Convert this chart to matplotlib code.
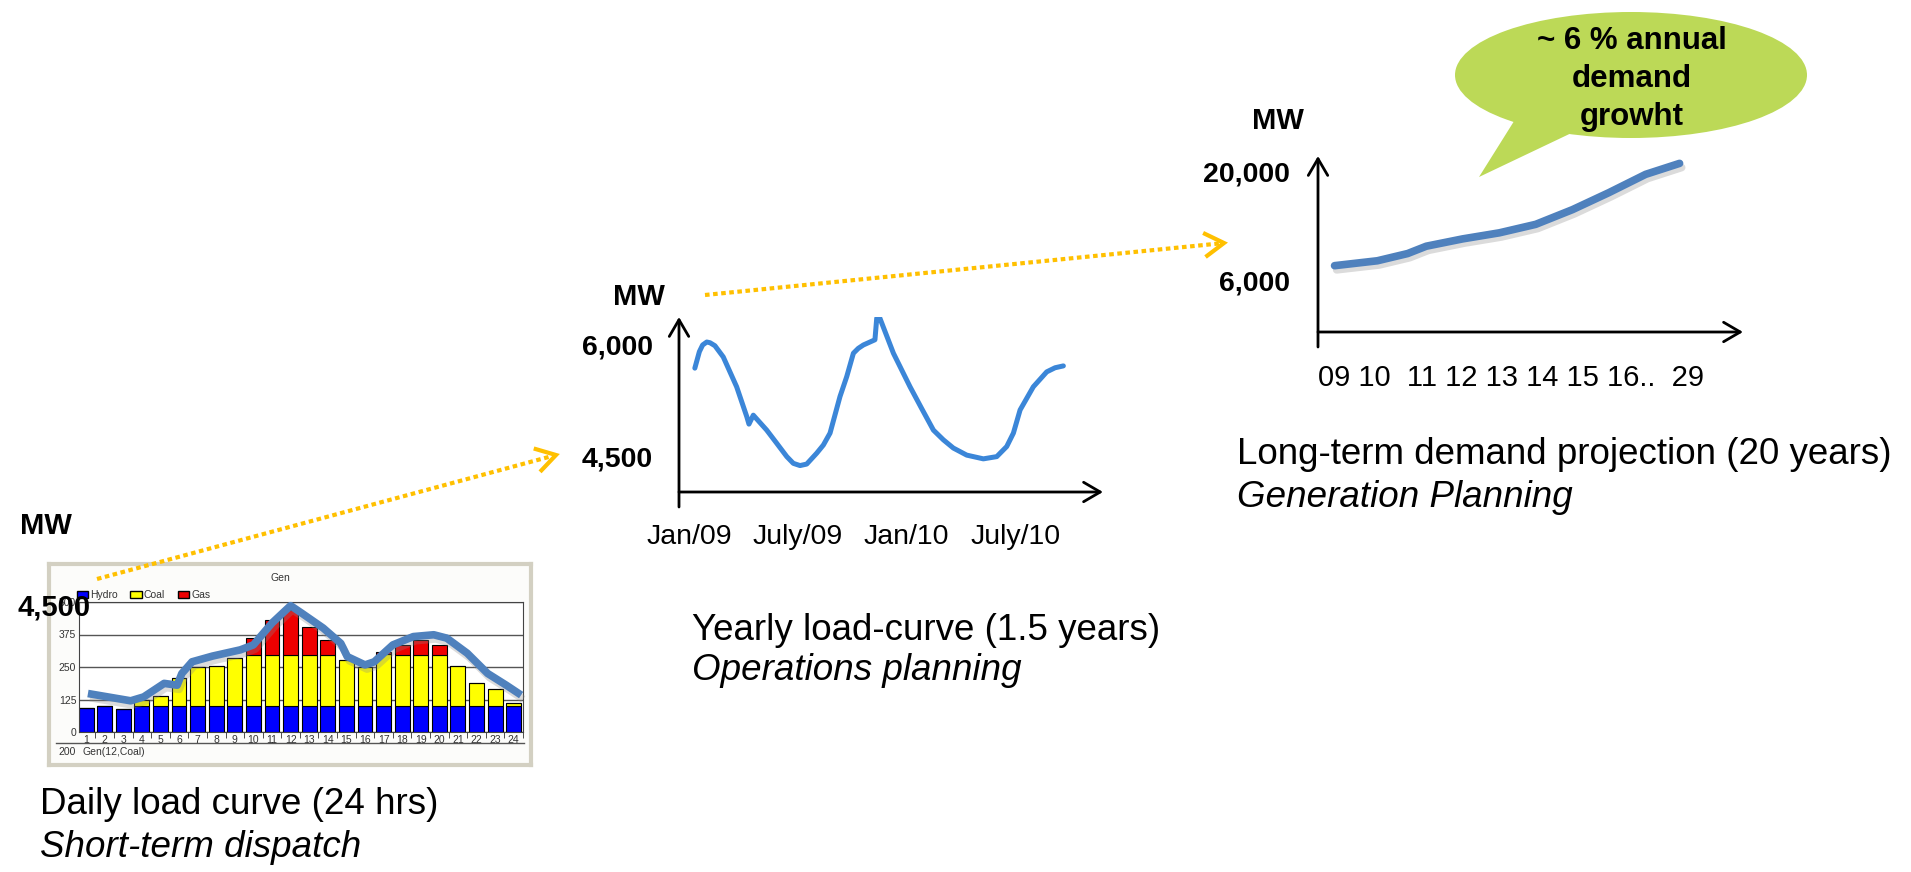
import numpy as np
import matplotlib
matplotlib.use('Agg')
import matplotlib.pyplot as plt
import matplotlib.patheffects as pe
from matplotlib.patches import Ellipse, Polygon, Patch

plt.rcParams['font.family'] = ['Liberation Sans', 'DejaVu Sans']

W, H = 1911, 872

# ---- daily dispatch (24 hrs), MW stacked by source
hours = np.arange(1, 25)
hydro = [94, 99, 88, 100, 100, 100, 100, 100, 100, 100, 100, 100,
         100, 100, 100, 100, 100, 100, 100, 100, 100, 100, 100, 100]
coal = [0, 0, 0, 22, 38, 106, 149, 154, 184, 197, 197, 197,
        197, 197, 177, 151, 200, 197, 197, 197, 154, 89, 64, 13]
gas = [0, 0, 0, 0, 0, 0, 0, 0, 0, 64, 135, 173,
       106, 55, 0, 0, 6, 36, 55, 36, 0, 0, 0, 0]
daily_ticks = [0, 125, 250, 375, 500]

# hand drawn load curve over the bars
load_hour = [1.1, 3.4, 4.1, 5.2, 5.9, 6.15, 6.7, 7.8, 9.3, 10.0, 11.0, 12.0, 12.6,
             13.75, 14.7, 15.05, 16.0, 16.5, 17.5, 18.6, 19.7, 20.4, 21.5, 22.6, 23.6, 24.4]
load_mw = [148, 120, 135, 187, 180, 225, 270, 292, 316, 335, 419, 486, 457,
           400, 341, 290, 258, 270, 335, 367, 374, 361, 303, 225, 180, 142]

# ---- yearly load curve (months from Jan/09)
month = [0.3, 0.55, 0.73, 0.96, 1.14, 1.41, 1.87, 2.61, 3.17, 3.29, 3.53, 4.27, 4.82,
         5.38, 5.74, 6.11, 6.48, 7.03, 7.4, 7.77, 8.32, 8.69, 9.06, 9.33, 9.61, 10.25,
         10.35, 10.49, 11.27, 11.73, 12.19, 12.83, 13.48, 14.03, 14.58, 15.32, 16.24,
         16.98, 17.53, 17.9, 18.27, 19.0, 19.74, 20.2, 20.66]
yearly_mw = [5690, 5910, 6000, 6040, 6030, 5990, 5840, 5440, 5040, 4940, 5060, 4860, 4685,
             4505, 4415, 4385, 4405, 4550, 4660, 4820, 5310, 5575, 5890, 5955, 6000, 6070,
             6360, 6380, 5890, 5665, 5440, 5150, 4860, 4730, 4620, 4525, 4475,
             4505, 4640, 4820, 5130, 5440, 5640, 5695, 5720]
month_ticks = [0, 6, 12, 18]
month_labels = ['Jan/09', 'July/09', 'Jan/10', 'July/10']

# ---- long-term projection
year_idx = [0.06, 1.12, 1.87, 2.33, 3.23, 4.14, 5.04, 5.95, 6.85, 7.76, 8.6]
proj_mw = [7840, 8470, 9400, 10340, 11280, 12060, 13150, 15040, 17220, 19570, 20980]
year_labels = ['09', '10', '', '11', '12', '13', '14', '15', '16..', '', '29']

BLUE = '#4f81bd'
ORANGE = '#ffc000'
shadow = [pe.SimpleLineShadow(offset=(1.5, -3), shadow_color='#888888', alpha=0.3),
          pe.Normal()]

fig = plt.figure(figsize=(W / 100, H / 100), dpi=100)
fig.patch.set_facecolor('white')


def px_axes(x0, y0, x1, y1, **kw):
    return fig.add_axes([x0 / W, 1 - y1 / H, (x1 - x0) / W, (y1 - y0) / H], **kw)


def arrow_axes(ax, below):
    # open-headed axis arrows like the slide
    style = '->,head_length=0.6,head_width=0.35'
    kw = dict(arrowstyle=style, lw=2, color='black', shrinkA=0, shrinkB=0, mutation_scale=20)
    ax.annotate('', xy=(1, 0), xytext=(0, 0), xycoords='axes fraction', arrowprops=kw)
    ax.annotate('', xy=(0, 1), xytext=(0, -below), xycoords='axes fraction', arrowprops=kw)
    for s in ax.spines.values():
        s.set_visible(False)
    ax.patch.set_alpha(0)


# ================= daily panel =================
panel = px_axes(49, 564, 531, 765)
panel.set_facecolor('#fcfcfa')
panel.set_xticks([])
panel.set_yticks([])
panel.set_xlim(0, 1)
panel.set_ylim(0, 1)
for s in panel.spines.values():
    s.set_color('#d3d0c2')
    s.set_linewidth(3)
panel.text(0.481, 0.93, 'Gen', fontsize=7.5, color='#333333', ha='center', va='center')
panel.plot([0.015, 0.985], [0.11, 0.11], color='#555555', lw=1)
panel.text(0.019, 0.065, '200', fontsize=7.5, color='#333333', va='center')
panel.text(0.07, 0.065, 'Gen(12,Coal)', fontsize=7.5, color='#333333', va='center')

ax1 = px_axes(79, 602, 523, 732)
ax1.set_facecolor('white')
bottom2 = np.array(hydro) + np.array(coal)
ax1.bar(hours, hydro, width=0.8, color='#0000ff', edgecolor='black', lw=0.8, zorder=2)
ax1.bar(hours, coal, bottom=hydro, width=0.8, color='#ffff00', edgecolor='black', lw=0.8, zorder=2)
ax1.bar(hours, gas, bottom=bottom2, width=0.8, color='#ee0000', edgecolor='black', lw=0.8, zorder=2)
ax1.plot(load_hour, load_mw, color=BLUE, lw=5.5, solid_capstyle='butt', solid_joinstyle='round',
         zorder=4, clip_on=False, path_effects=shadow)
ax1.set_xlim(0.62, 24.48)
ax1.set_ylim(0, 500)
ax1.set_yticks(daily_ticks)
ax1.set_xticks(hours)
ax1.set_xticks(hours + 0.5, minor=True)
ax1.yaxis.grid(True, color='#555555', lw=1, zorder=0)
ax1.set_axisbelow(True)
ax1.tick_params(axis='both', which='major', labelsize=7.5, labelcolor='#333333', length=0, pad=2)
ax1.tick_params(axis='x', which='minor', length=4, color='#333333')
for s in ax1.spines.values():
    s.set_color('#444444')
leg = ax1.legend(handles=[Patch(facecolor='#0000ff', edgecolor='black', label='Hydro'),
                          Patch(facecolor='#ffff00', edgecolor='black', label='Coal'),
                          Patch(facecolor='#ee0000', edgecolor='black', label='Gas')],
                 ncol=3, loc='lower left', bbox_to_anchor=(-0.01, 1.0), frameon=False,
                 fontsize=7.5, handlelength=1.1, handleheight=0.7, handletextpad=0.2,
                 columnspacing=1.2, borderaxespad=0.1, borderpad=0.1)
for t in leg.get_texts():
    t.set_color('#333333')

# ================= yearly curve =================
ax2 = px_axes(679, 317, 1103, 492)
ax2.plot(month, yearly_mw, color='#3b86d8', lw=3.6, solid_capstyle='round',
         solid_joinstyle='round')
ax2.set_xlim(-0.575, 22.85)
ax2.set_ylim(4031, 6375)
ax2.set_yticks([4500, 6000])
ax2.set_yticklabels(['4,500', '6,000'], fontsize=20.5, fontweight='bold')
ax2.set_xticks(month_ticks)
ax2.set_xticklabels(month_labels, fontsize=20.5)
ax2.tick_params(axis='y', length=0, pad=19)
ax2.tick_params(axis='x', length=0, pad=23)
arrow_axes(ax2, 15 / 175)

# ================= long-term projection =================
ax3 = px_axes(1318, 156, 1743, 332)
ax3.plot(year_idx, proj_mw, color=BLUE, lw=5.5, solid_capstyle='round',
         solid_joinstyle='round', path_effects=shadow)
ax3.set_xlim(-0.35, 10.17)
ax3.set_ylim(-679, 21927)
ax3.set_yticks([6000, 20000])
ax3.set_yticklabels(['6,000', '20,000'], fontsize=20.5, fontweight='bold')
ax3.set_xticks([])
ax3.tick_params(axis='y', length=0, pad=20)
ax3.text(0, -0.26, ' '.join(year_labels), transform=ax3.transAxes,
         fontsize=21, ha='left', va='center')
arrow_axes(ax3, 15 / 176)

# ================= overlay: labels, arrows, callout =================
ov = fig.add_axes([0, 0, 1, 1], zorder=10)
ov.set_xlim(0, W)
ov.set_ylim(H, 0)
ov.axis('off')
ov.patch.set_alpha(0)

bold = dict(fontsize=21, fontweight='bold', va='center', ha='left')
ov.text(20, 526, 'MW', **bold)
ov.text(18, 607, '4,500', **bold)
ov.text(613, 297, 'MW', **bold)
ov.text(1252, 121, 'MW', **bold)

cap = dict(fontsize=26.5, va='baseline', ha='left')
ov.text(40, 814, 'Daily load curve (24 hrs)', **cap)
ov.text(40, 857, 'Short-term dispatch', style='italic', **cap)
ov.text(692, 640, 'Yearly load-curve (1.5 years)', **cap)
ov.text(692, 680, 'Operations planning', style='italic', **cap)
ov.text(1237, 464, 'Long-term demand projection (20 years)', **cap)
ov.text(1237, 507, 'Generation Planning', style='italic', **cap)


def dotted_arrow(p0, p1):
    p0, p1 = np.array(p0, float), np.array(p1, float)
    d = (p1 - p0) / np.hypot(*(p1 - p0))
    n = np.array([-d[1], d[0]])
    ov.plot(*zip(p0, p1 - 4 * d), color=ORANGE, lw=3, dashes=(1.1, 0.85),
            dash_capstyle='butt')
    head = [p1 - 18 * d + 11 * n, p1, p1 - 18 * d - 11 * n]
    ov.plot(*zip(*head), color=ORANGE, lw=3, solid_joinstyle='miter')


dotted_arrow((97, 579), (556, 455))
dotted_arrow((705, 295), (1224, 243))

green = '#bcd957'
ov.add_patch(Ellipse((1631, 75), 352, 126, facecolor=green, edgecolor='none'))
ov.add_patch(Polygon([(1516, 118), (1479, 177), (1582, 128)], closed=True,
                     facecolor=green, edgecolor='none'))
call = dict(fontsize=22.5, fontweight='bold', ha='center', va='baseline')
ov.text(1632, 49, '~ 6 % annual', **call)
ov.text(1632, 87, 'demand', **call)
ov.text(1632, 125, 'growht', **call)

fig.savefig('out.png', dpi=100, facecolor='white')
